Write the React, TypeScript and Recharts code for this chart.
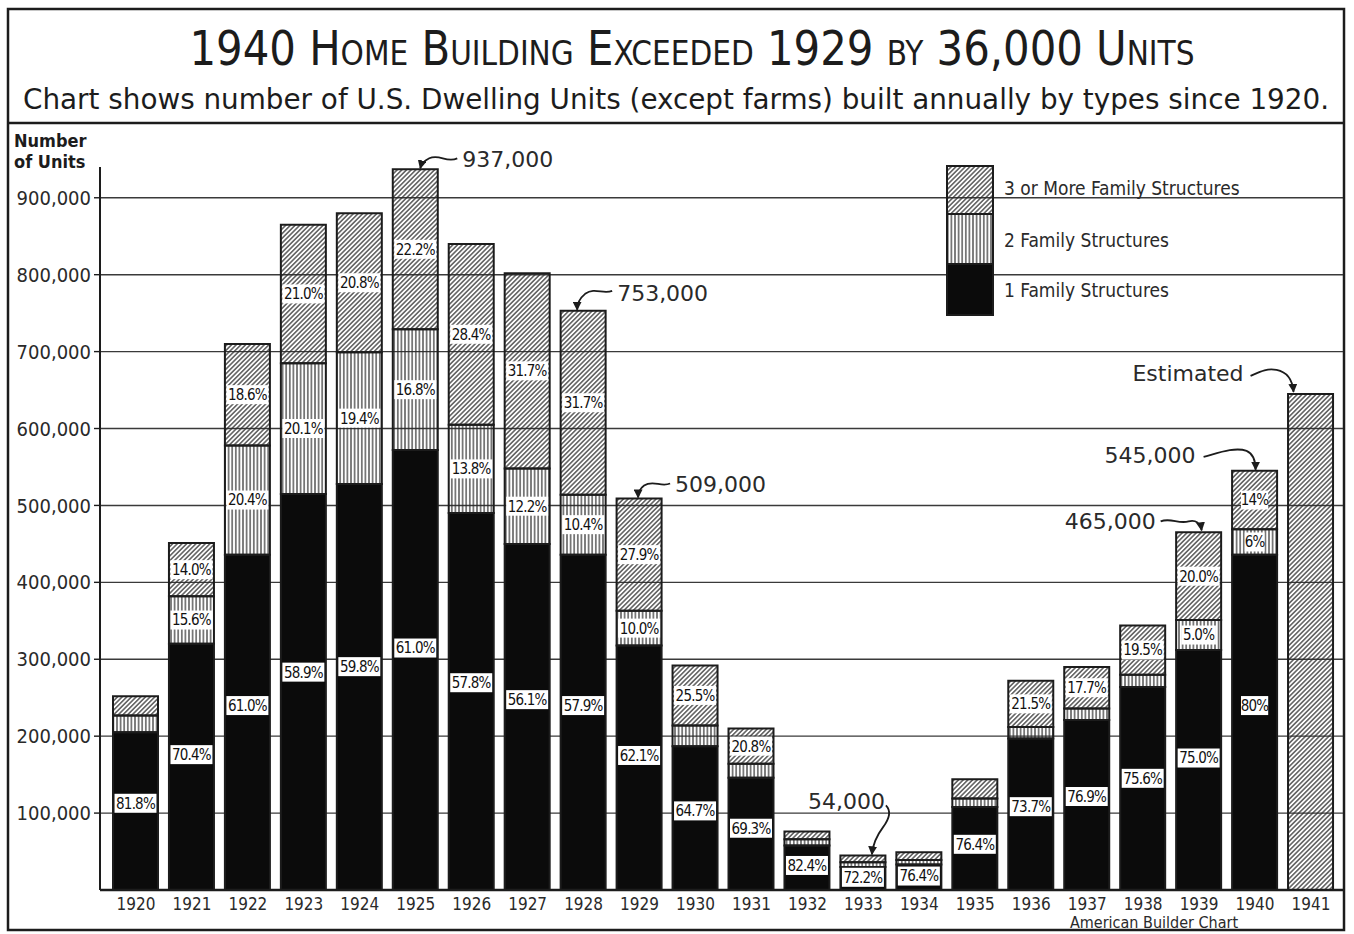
import { BarChart, Bar, XAxis, YAxis, CartesianGrid, Legend, LabelList } from "recharts";

// dwelling units built, in thousands
const YEARS = [
  "1920", "1921", "1922", "1923", "1924", "1925", "1926", "1927", "1928", "1929", "1930",
  "1931", "1932", "1933", "1934", "1935", "1936", "1937", "1938", "1939", "1940", "1941",
];
const ONE_FAMILY = [205, 320, 436, 515, 528, 572, 490, 450, 436, 318, 187, 146, 58, 30, 33, 108, 197, 221, 264, 312, 436, 0];
const TWO_FAMILY = [22, 62, 142, 170, 171, 157, 115, 98, 78, 45, 27, 18, 8, 6, 6, 11, 15, 15, 16, 39, 33, 0];
const THREE_PLUS = [25, 69, 132, 180, 181, 208, 235, 254, 239, 146, 78, 46, 10, 9, 10, 25, 60, 54, 64, 114, 76, 0];
const ESTIMATED = [0, 0, 0, 0, 0, 0, 0, 0, 0, 0, 0, 0, 0, 0, 0, 0, 0, 0, 0, 0, 0, 645];

// percentages printed on the segments ("" = none)
const ONE_PCT = [
  "81.8%", "70.4%", "61.0%", "58.9%", "59.8%", "61.0%", "57.8%", "56.1%", "57.9%", "62.1%", "64.7%",
  "69.3%", "82.4%", "72.2%", "76.4%", "76.4%", "73.7%", "76.9%", "75.6%", "75.0%", "80%", "",
];
const TWO_PCT = [
  "", "15.6%", "20.4%", "20.1%", "19.4%", "16.8%", "13.8%", "12.2%", "10.4%", "10.0%", "",
  "", "", "", "", "", "", "", "", "5.0%", "6%", "",
];
const THREE_PCT = [
  "", "14.0%", "18.6%", "21.0%", "20.8%", "22.2%", "28.4%", "31.7%", "31.7%", "27.9%", "25.5%",
  "20.8%", "", "", "", "", "21.5%", "17.7%", "19.5%", "20.0%", "14%", "",
];

const Y_TICKS = [100, 200, 300, 400, 500, 600, 700, 800, 900];

const CALLOUT_TEXT: Record<string, string> = {
  "1925": "937,000",
  "1928": "753,000",
  "1929": "509,000",
  "1933": "54,000",
  "1939": "465,000",
  "1940": "545,000",
  "1941": "Estimated",
};

// text spot and arrow, relative to the top centre of the bar
const CALLOUT_LAYOUT: Record<string, { tx: number; ty: number; anchor: "start" | "end"; path: string }> = {
  "1925": { tx: 47, ty: -10, anchor: "start", path: "M42,-11 C31,-6 24,-16 14,-11 C8,-8 6,-5 5,-1" },
  "1928": { tx: 34, ty: -18, anchor: "start", path: "M29,-20 C20,-16 12,-24 2,-17 C-3,-13 -6,-8 -6,-1" },
  "1929": { tx: 36, ty: -14, anchor: "start", path: "M31,-15 C22,-11 14,-19 5,-13 C1,-10 -1,-6 -1,-1" },
  "1933": { tx: 22, ty: -54, anchor: "end", path: "M23,-50 C29,-44 26,-36 20,-28 C14,-20 10,-12 9,-1" },
  "1939": { tx: -43, ty: -11, anchor: "end", path: "M-38,-11 C-28,-15 -20,-8 -10,-11 C-3,-13 2,-9 3,-2" },
  "1940": { tx: -59, ty: -16, anchor: "end", path: "M-51,-14 C-36,-18 -20,-24 -8,-20 C-1,-17 1,-10 1,-1" },
  "1941": { tx: -67, ty: -21, anchor: "end", path: "M-60,-18 C-51,-22 -44,-26 -34,-24 C-24,-22 -18,-14 -17,-2" },
};

const COND = '"DejaVu Sans Condensed", "Liberation Sans Narrow", "DejaVu Sans", sans-serif';
const SANS = '"DejaVu Sans", "Liberation Sans", sans-serif';
const INK = "#1c1c1c";
const BLACK = "#0b0b0b";

const chartData = YEARS.map((year, i) => ({
  year,
  one: ONE_FAMILY[i],
  two: TWO_FAMILY[i],
  three: THREE_PLUS[i],
  est: ESTIMATED[i],
}));

const yearOf = (entry: any) => entry?.payload?.year;

function pickYear(props: any) {
  return typeof props.value === "string" ? props.value : YEARS[props.index];
}

// white tag with the percentage, frac = where in the segment it sits
function pctLabel(labels: string[], frac: number) {
  return (props: any) => {
    const vb = props.viewBox ?? props;
    const text = labels[YEARS.indexOf(pickYear(props))];
    if (!text || !vb.height) return null;
    const cx = vb.x + vb.width / 2;
    const cy = vb.y + vb.height * frac;
    const w = Math.min(vb.width - 3, text.length * 7.4 + 5);
    return (
      <g>
        <rect x={cx - w / 2} y={cy - 9.5} width={w} height={19} fill="#fff" />
        <text
          x={cx}
          y={cy}
          dy="0.36em"
          textAnchor="middle"
          fontFamily={COND}
          fontSize={15}
          letterSpacing={-0.8}
          fill="#111"
        >
          {text}
        </text>
      </g>
    );
  };
}

function calloutLabel(props: any) {
  const vb = props.viewBox ?? props;
  const year = pickYear(props);
  const text = CALLOUT_TEXT[year];
  const c = CALLOUT_LAYOUT[year];
  if (!text || !c || !vb.height) return null;
  const cx = vb.x + vb.width / 2;
  return (
    <g transform={`translate(${cx},${vb.y})`}>
      <path d={c.path} fill="none" stroke={INK} strokeWidth={1.8} markerEnd="url(#arrowhead)" />
      <text x={c.tx} y={c.ty} dy="0.36em" textAnchor={c.anchor} fontFamily={SANS} fontSize={22} fill="#2a2a2a">
        {text}
      </text>
    </g>
  );
}

function LegendBox(props: any) {
  const rows = (props.payload ?? []).filter((p: any) => p.dataKey !== "est").slice().reverse();
  const rowH = [48, 50, 51];
  let top = 0;
  return (
    <div style={{ position: "relative", width: 360, height: 152 }}>
      <svg width={50} height={152} style={{ position: "absolute", left: 0, top: 0 }}>
        {rows.map((r: any, i: number) => {
          const y = top;
          top += rowH[i] ?? 49;
          return (
            <rect key={r.dataKey} x={1} y={y + 1} width={46} height={rowH[i] ?? 49} fill={r.color} stroke={INK} strokeWidth={2} />
          );
        })}
      </svg>
      {rows.map((r: any, i: number) => (
        <div
          key={r.dataKey}
          style={{
            position: "absolute",
            left: 58,
            top: [23, 75, 125][i] - 12,
            fontFamily: COND,
            fontSize: 19,
            color: "#2a2a2a",
            whiteSpace: "nowrap",
            lineHeight: "24px",
          }}
        >
          {r.value}
        </div>
      ))}
    </div>
  );
}

export default function App() {
  return (
    <div style={{ position: "absolute", left: 0, top: 0, width: 1354, height: 934, background: "#fff" }}>
      {/* frame, headings */}
      <svg width={1354} height={934} style={{ position: "absolute", left: 0, top: 0 }}>
        <rect x={8} y={9} width={1336} height={921} fill="none" stroke={INK} strokeWidth={2.5} />
        <line x1={8} y1={123} x2={1344} y2={123} stroke={INK} strokeWidth={2.5} />
        <text
          x={692}
          y={65}
          textAnchor="middle"
          fontFamily={COND}
          fontSize={48}
          style={{ fontVariant: "small-caps" }}
          textLength={1005}
          lengthAdjust="spacingAndGlyphs"
          fill={INK}
        >
          1940 Home Building Exceeded 1929 by 36,000 Units
        </text>
        <text
          x={676}
          y={109}
          textAnchor="middle"
          fontFamily={COND}
          fontSize={28}
          textLength={1306}
          lengthAdjust="spacingAndGlyphs"
          fill={INK}
        >
          Chart shows number of U.S. Dwelling Units (except farms) built annually by types since 1920.
        </text>
        <text x={14} y={147} fontFamily={COND} fontWeight="bold" fontSize={18} fill={INK}>
          Number
        </text>
        <text x={14} y={168} fontFamily={COND} fontWeight="bold" fontSize={18} fill={INK}>
          of Units
        </text>
        <text x={1154} y={928} textAnchor="middle" fontFamily={COND} fontSize={16} fill="#2a2a2a">
          American Builder Chart
        </text>
      </svg>

      <BarChart
        width={1354}
        height={934}
        data={chartData}
        margin={{ top: 167, right: 11, bottom: 14, left: 10 }}
        barSize={45}
      >
        <defs>
          <pattern id="hatchDiag" patternUnits="userSpaceOnUse" width={3.3} height={3.3} patternTransform="rotate(45)">
            <line x1={1.65} y1={0} x2={1.65} y2={3.3} stroke="#262626" strokeWidth={1.15} />
          </pattern>
          <pattern id="hatchVert" patternUnits="userSpaceOnUse" width={3.6} height={4}>
            <line x1={1.8} y1={0} x2={1.8} y2={4} stroke="#262626" strokeWidth={1.15} />
          </pattern>
          <marker
            id="arrowhead"
            viewBox="0 0 10 10"
            refX={9}
            refY={5}
            markerWidth={9}
            markerHeight={9}
            markerUnits="userSpaceOnUse"
            orient="auto"
          >
            <path d="M0,0 L10,5 L0,10 z" fill={INK} />
          </marker>
        </defs>
        <CartesianGrid horizontal vertical={false} horizontalValues={Y_TICKS} stroke="#3a3a3a" strokeWidth={1.4} />
        <XAxis
          dataKey="year"
          height={30}
          interval={0}
          padding={{ left: 8, right: 4 }}
          axisLine={{ stroke: INK, strokeWidth: 2.5 }}
          tickLine={false}
          tickSize={0}
          tickMargin={8}
          tick={{ fontFamily: COND, fontSize: 17, fill: "#2a2a2a" }}
        />
        <YAxis
          width={90}
          domain={[0, 940]}
          ticks={Y_TICKS}
          interval={0}
          tickFormatter={(v: number) => (v * 1000).toLocaleString("en-US")}
          axisLine={{ stroke: INK, strokeWidth: 2 }}
          tickLine={{ stroke: INK, strokeWidth: 1.4 }}
          tickSize={6}
          tickMargin={3}
          tick={{ fontFamily: COND, fontSize: 20, fill: "#2a2a2a" }}
        />
        <Legend
          layout="horizontal"
          verticalAlign="middle"
          align="center"
          wrapperStyle={{ left: 946, top: 165, width: 360, height: 152 }}
          content={(p: any) => <LegendBox {...p} />}
        />
        <Bar dataKey="one" name="1 Family Structures" stackId="a" fill={BLACK} stroke={INK} strokeWidth={2} isAnimationActive={false}>
          <LabelList valueAccessor={yearOf} content={pctLabel(ONE_PCT, 0.45)} />
        </Bar>
        <Bar dataKey="two" name="2 Family Structures" stackId="a" fill="url(#hatchVert)" stroke={INK} strokeWidth={2} isAnimationActive={false}>
          <LabelList valueAccessor={yearOf} content={pctLabel(TWO_PCT, 0.5)} />
        </Bar>
        <Bar dataKey="three" name="3 or More Family Structures" stackId="a" fill="url(#hatchDiag)" stroke={INK} strokeWidth={2} isAnimationActive={false}>
          <LabelList valueAccessor={yearOf} content={pctLabel(THREE_PCT, 0.5)} />
          <LabelList valueAccessor={yearOf} content={calloutLabel} />
        </Bar>
        <Bar dataKey="est" name="Estimated" legendType="none" stackId="a" fill="url(#hatchDiag)" stroke={INK} strokeWidth={2} isAnimationActive={false}>
          <LabelList valueAccessor={yearOf} content={calloutLabel} />
        </Bar>
      </BarChart>
    </div>
  );
}
